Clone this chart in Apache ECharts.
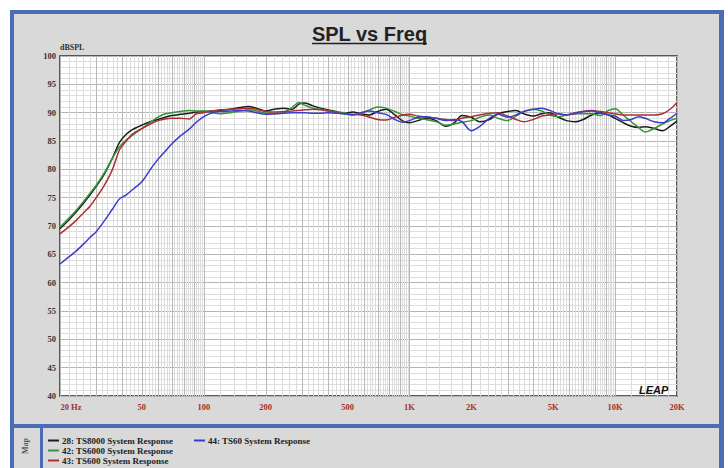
<!DOCTYPE html>
<html><head><meta charset="utf-8">
<script src="https://cdn.jsdelivr.net/npm/echarts@6/dist/echarts.min.js"></script>
<style>html,body{margin:0;padding:0;background:#fff;}#c{width:728px;height:468px;}</style>
</head><body><div id="c"></div>
<script>
// ---- data ----
const freqs = [20,22,24,26,28,30,33,36,39,42,45,50,55,60,65,70,77,85,92,100,
  110,120,135,150,165,180,200,220,245,270,290,310,340,370,400,440,480,530,580,640,700,770,850,930,1000,
  1100,1200,1350,1500,1650,1800,2000,2200,2450,2700,3000,3300,3600,4000,4400,4800,5300,5800,6400,7000,7700,8500,9300,10000,
  11000,12000,13000,14000,15500,17000,18500,20000];
const spl28 = [69.5,71,72.5,74,75.5,77,79.3,82,84.8,86.2,87,87.8,88.4,88.8,89.2,89.5,89.7,89.9,90.1,90.2,
  90.3,90.4,90.6,90.9,91.1,90.8,90.3,90.6,90.8,90.6,91.5,91.7,91.2,90.8,90.5,90.2,89.9,90.1,89.8,89.6,90.2,90.6,89.6,88.5,88.2,
  88.6,89.0,88.6,87.6,88.2,89.5,89.2,88.4,88.8,89.8,90.2,90.4,89.8,89.4,89.8,90.0,89.2,88.6,88.4,88.8,89.6,90.0,89.6,89.0,
  88.2,87.6,87.4,87.5,87.2,86.8,87.6,88.5];
const spl42 = [69.8,71.3,72.8,74.3,75.8,77.2,79.5,82,84,85.2,86,87.2,88.3,89.2,89.8,90,90.2,90.4,90.3,90.3,
  90.0,89.8,90.0,90.3,90.5,90.3,89.9,89.8,90.0,91.0,91.8,91.3,90.8,90.6,90.4,90.1,90.0,89.6,89.9,90.5,91.0,90.8,90.2,89.6,89.4,
  89.0,88.8,88.4,87.8,88.0,88.3,88.6,89.2,89.6,89.0,88.6,89.4,90.2,90.6,90.3,89.6,89.3,89.6,89.8,89.8,89.8,89.5,90.4,90.7,
  89.5,88.4,87.4,86.6,87.2,88.0,88.6,89.0];
const spl43 = [68.6,69.8,71,72.3,73.5,75,77.3,80,83.5,85,86.2,87.2,88,88.6,88.9,89,89,88.9,89.8,90,
  90.3,90.5,90.6,90.7,90.8,90.6,90.2,90.1,90.2,90.3,90.4,90.5,90.6,90.5,90.3,90.0,89.8,89.7,89.6,89.2,88.8,88.7,89.2,89.6,89.7,
  89.4,89.2,89.0,88.8,88.6,89.0,89.3,89.6,89.9,90.0,89.4,88.8,88.4,88.8,89.4,89.6,89.8,89.6,89.8,90.2,90.4,90.2,90.0,89.8,
  89.6,89.6,89.6,89.6,89.6,89.8,90.6,91.8];
const spl44 = [63.3,64.5,65.6,66.8,68,69,71,73,74.8,75.5,76.4,77.8,80,81.8,83.2,84.5,85.9,87.1,88.3,89.3,
  90.0,90.2,90.3,90.4,90.3,90.0,89.7,89.8,89.9,90.0,90.0,90.0,89.9,89.9,90.0,89.9,89.8,89.6,90.0,90.3,90.0,89.7,88.8,88.3,88.6,
  89.2,89.3,89.0,88.6,88.8,88.4,86.8,87.6,89.0,89.7,89.2,89.6,90.2,90.6,90.8,90.4,89.8,89.6,90.0,90.2,90.3,89.9,89.6,89.4,
  88.6,88.8,89.3,89.0,88.4,88.2,89.0,89.9];
const seriesNames = ['28: TS8000 System Response','42: TS6000 System Response','43: TS600 System Response','44: TS60 System Response'];
const seriesColors = ['#1c1c1c','#35953a','#a83232','#3c3ccc'];
const xTickFreqs = [20,50,100,200,500,1000,2000,5000,10000,20000];
const xTickLabels = ['20 Hz','50','100','200','500','1K','2K','5K','10K','20K'];
const yMin = 40, yMax = 100, yStep = 5;
const titleText = 'SPL vs Freq';
const yName = 'dBSPL';

// vertical grid frequencies (0.2 steps of each decade)
const gridLines = [];
[10,100,1000,10000].forEach(d => {
  for (let k = 5; k <= 50; k++) {
    const f = Math.round(k * 0.2 * d * 1000) / 1000;
    if (f >= 20 && f <= 20000) gridLines.push([f, (k % 5 === 0) ? 1 : 0]);
  }
});

const allVals = [spl28, spl42, spl43, spl44];
const chart = echarts.init(document.getElementById('c'), null, {renderer: 'svg'});
const serif = '"Liberation Serif", "Times New Roman", serif';

const series = [{
  type: 'custom', xAxisIndex: 0, yAxisIndex: 0, silent: true, z: 1,
  data: gridLines,
  renderItem: (params, api) => {
    const f = api.value(0), w = api.value(1);
    const p1 = api.coord([f, yMin]), p2 = api.coord([f, yMax]);
    const x = Math.round(p1[0]) + 0.5;
    return {type: 'line', shape: {x1: x, y1: p1[1], x2: x, y2: p2[1]},
      style: {stroke: w ? '#b8b8b8' : '#dcdcdc', lineWidth: 1}, silent: true};
  }
}];
allVals.forEach((vals, i) => {
  series.push({
    name: seriesNames[i], type: 'line', xAxisIndex: 0, yAxisIndex: 0, z: 3,
    showSymbol: false, smooth: 0.3, animation: false,
    lineStyle: {color: seriesColors[i], width: 1.5},
    itemStyle: {color: seriesColors[i]},
    data: freqs.map((f, j) => [f, vals[j]])
  });
});

const legendCommon = {
  orient: 'vertical', itemGap: 1, itemWidth: 11, itemHeight: 2, icon: 'rect',
  selectedMode: false, padding: 0, height: 40,
  textStyle: {fontFamily: serif, fontWeight: 'bold', fontSize: 9, color: '#222', lineHeight: 9, padding: [0,0,0,-2]}
};

chart.setOption({
  animation: false,
  grid: {left: 60, top: 56, width: 617, height: 340, show: true, backgroundColor: '#fff',
         borderColor: '#2a2a2a', borderWidth: 1.5, z: 0},
  xAxis: [{
    type: 'log', logBase: 10, min: 20, max: 20000,
    axisLine: {show: false}, axisTick: {show: false}, axisLabel: {show: false}, splitLine: {show: false}
  }, {
    type: 'value', min: Math.log10(20), max: Math.log10(20000), position: 'bottom',
    axisLine: {show: false}, axisTick: {show: false}, splitLine: {show: false},
    axisLabel: {
      customValues: xTickFreqs.map(f => Math.log10(f)),
      margin: 6, fontFamily: serif, fontWeight: 'bold', fontSize: 8.5, color: '#a3302c',
      formatter: v => {
        const i = xTickFreqs.findIndex(f => Math.abs(Math.log10(f) - v) < 1e-4);
        if (i < 0) return '';
        return i === 0 ? '{h|' + xTickLabels[i] + '}' : xTickLabels[i];
      },
      rich: {h: {padding: [0,0,0,22], fontFamily: serif, fontWeight: 'bold', fontSize: 8.5, color: '#a3302c'}}
    }
  }],
  yAxis: {
    type: 'value', min: yMin, max: yMax, interval: yStep,
    name: yName, nameLocation: 'end', nameGap: 3,
    nameTextStyle: {align: 'left', verticalAlign: 'bottom', fontFamily: serif, fontWeight: 'bold', fontSize: 8, color: '#333'},
    axisLine: {show: false}, axisTick: {show: false},
    axisLabel: {margin: 4, fontFamily: serif, fontWeight: 'bold', fontSize: 8.5, color: '#333'},
    splitLine: {show: true, lineStyle: {color: '#b4b4b4', width: 1}},
    minorTick: {show: false, splitNumber: 5},
    minorSplitLine: {show: true, lineStyle: {color: '#dedede', width: 1}}
  },
  legend: [
    Object.assign({}, legendCommon, {left: 48, top: 436, data: seriesNames.slice(0, 3)}),
    Object.assign({}, legendCommon, {left: 194, top: 436, data: seriesNames.slice(3)})
  ],
  graphic: [
    {type: 'rect', z: -10, silent: true, shape: {x: 10, y: 10, width: 714, height: 470}, style: {fill: '#d9d9d9'}},
    {type: 'rect', z: -9, silent: true, shape: {x: 10, y: 10, width: 714, height: 4}, style: {fill: '#4a6db5'}},
    {type: 'rect', z: -9, silent: true, shape: {x: 10, y: 10, width: 4, height: 470}, style: {fill: '#4a6db5'}},
    {type: 'rect', z: -9, silent: true, shape: {x: 719, y: 10, width: 5, height: 470}, style: {fill: '#4a6db5'}},
    {type: 'rect', z: -9, silent: true, shape: {x: 10, y: 424, width: 714, height: 4}, style: {fill: '#4a6db5'}},
    {type: 'rect', z: -9, silent: true, shape: {x: 40, y: 426, width: 3, height: 50}, style: {fill: '#4a6db5'}},
    {type: 'text', z: 10, silent: true, x: 369.5, y: 34,
      style: {text: titleText, fill: '#222', font: 'bold 20px "Liberation Sans", Arial, sans-serif', textAlign: 'center', textVerticalAlign: 'middle'}},
    {type: 'line', z: 10, silent: true, shape: {x1: 312, y1: 43.5, x2: 427, y2: 43.5}, style: {stroke: '#222', lineWidth: 1.6}},
    {type: 'text', z: 10, silent: true, x: 639, y: 390,
      style: {text: 'LEAP', fill: '#111', font: 'italic bold 11px "Liberation Sans", Arial, sans-serif', textAlign: 'left', textVerticalAlign: 'middle'}},
    {type: 'text', z: 10, silent: true, x: 25, y: 446, rotation: Math.PI / 2,
      style: {text: 'Map', fill: '#555', font: 'bold 8px "Liberation Serif", serif', textAlign: 'center', textVerticalAlign: 'middle'}}
  ],
  series: series
});
</script>
</body></html>
